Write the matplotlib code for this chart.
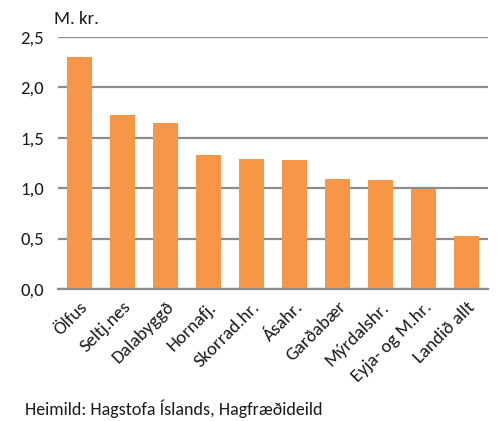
import matplotlib
matplotlib.use("Agg")
import matplotlib.pyplot as plt
from matplotlib.ticker import FixedLocator

categories = ["Ölfus", "Seltj.nes", "Dalabyggð", "Hornafj.", "Skorrad.hr.", "Ásahr.",
              "Garðabær", "Mýrdalshr.", "Eyja- og M.hr.", "Landið allt"]
values = [2.30, 1.73, 1.65, 1.33, 1.29, 1.28, 1.09, 1.085, 0.99, 0.53]
yticks = [0.0, 0.5, 1.0, 1.5, 2.0, 2.5]
ytick_labels = ["0,0", "0,5", "1,0", "1,5", "2,0", "2,5"]

plt.rcParams['font.family'] = ['Carlito', 'Lato', 'DejaVu Sans']

fig = plt.figure(figsize=(4.99, 4.21), dpi=100)
ax = fig.add_axes([58/499, 1-289/421, 430/499, (289-37)/421])

x = range(len(categories))
ax.bar(x, values, width=0.56, color="#F79646", zorder=3)
ax.set_xlim(-0.5, len(categories)-0.5)
ax.set_ylim(0, 2.5)
ax.yaxis.set_major_locator(FixedLocator(yticks))
ax.set_yticklabels(ytick_labels, fontsize=13.5, color="#1a1a1a")
ax.set_xticks(list(x))
ax.set_xticklabels(categories, rotation=45, ha="right", rotation_mode="anchor",
                   fontsize=13.5, color="#1a1a1a")
ax.tick_params(axis="both", length=0)
ax.tick_params(axis="y", pad=10)
ax.tick_params(axis="x", pad=7)
ax.grid(axis="y", color="#8C8C8C", linewidth=1.6, zorder=0)
for s in ["top", "right", "left"]:
    ax.spines[s].set_visible(False)
ax.spines["bottom"].set_color("#8C8C8C")
ax.spines["bottom"].set_linewidth(1.6)
ax.spines["bottom"].set_zorder(4)

fig.text(54/499, 1-19/421, "M. kr.", fontsize=13.5, color="#1a1a1a", va="center", ha="left")
fig.text(25/499, 1-409/421, "Heimild: Hagstofa Íslands, Hagfræðideild", fontsize=13,
         color="#1a1a1a", va="center", ha="left")

fig.savefig("out.png", dpi=100)
